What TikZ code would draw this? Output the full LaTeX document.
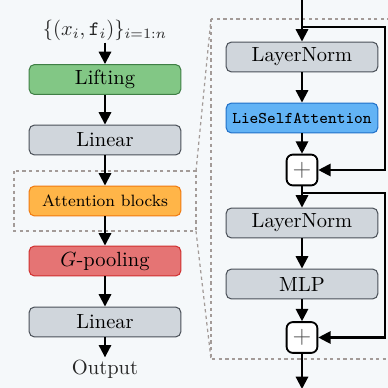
\documentclass[tikz,border=0pt]{standalone}
\usetikzlibrary{arrows.meta}

\definecolor{bgpage}{HTML}{F5F8FA}
\definecolor{liftfill}{HTML}{82C785}
\definecolor{liftdraw}{HTML}{3F7F45}
\definecolor{linfill}{HTML}{D0D6DC}
\definecolor{lindraw}{HTML}{4A5058}
\definecolor{attnfill}{HTML}{FFB548}
\definecolor{attndraw}{HTML}{F07A10}
\definecolor{poolfill}{HTML}{E57474}
\definecolor{pooldraw}{HTML}{D03030}
\definecolor{lsafill}{HTML}{62B3F5}
\definecolor{lsadraw}{HTML}{2070C8}
\definecolor{framecol}{HTML}{A39B98}

\begin{document}
\begin{tikzpicture}[
  x=0.4878pt,
  y=-0.4878pt,
  >={Triangle[width=6pt,length=6pt]},
  block/.style={
    rectangle,
    rounded corners=2.6pt,
    line width=0.5pt,
    minimum width=74pt,
    minimum height=14.6pt,
    inner sep=0pt
  },
  lifting/.style={block, draw=liftdraw, fill=liftfill},
  linear/.style={block, draw=lindraw, fill=linfill},
  attention/.style={block, draw=attndraw, fill=attnfill, font=\footnotesize},
  pooling/.style={block, draw=pooldraw, fill=poolfill},
  selfattn/.style={block, draw=lsadraw, fill=lsafill, font=\footnotesize\ttfamily},
  addnode/.style={
    rectangle,
    draw=black,
    fill=white,
    rounded corners=3pt,
    line width=0.9pt,
    minimum size=15pt,
    inner sep=0pt,
    text=black!70,
    font=\large
  },
  flow/.style={->, line width=1pt},
  frame/.style={draw=framecol, line width=0.6pt, dash pattern=on 1.6pt off 1.6pt},
  label/.style={inner sep=1pt, text=black!85}
]

\path[use as bounding box] (0,0) rectangle (388,388);
\fill[bgpage] (0,0) rectangle (388,388);

\begin{scope}
\clip (0,0) rectangle (388,388);

% ---------------------------------------------------------------------------
% Zoom frames
% ---------------------------------------------------------------------------
\coordinate (zoomtl) at (196,171);
\coordinate (zoombl) at (196,231);
\coordinate (blocktl) at (211,19);
\coordinate (blockbl) at (211,359);
\draw[frame] (14,171) rectangle (zoombl);
\draw[frame] (blocktl) rectangle (420,359);
\draw[frame] (zoomtl) -- (blocktl);
\draw[frame] (zoombl) -- (blockbl);

% ---------------------------------------------------------------------------
% Main pipeline
% ---------------------------------------------------------------------------
\node[label] (input) at (105,30) {$\{(x_i,\mathtt{f}_i)\}_{i=1:n}$};
\node[lifting] (lift) at (105,79.5) {Lifting};
\node[linear] (lin1) at (105,140) {Linear};
\node[attention] (attn) at (105,201) {Attention blocks};
\node[pooling] (pool) at (105,261) {$G$-pooling};
\node[linear] (lin2) at (105,322) {Linear};
\node[label] (output) at (105,369) {Output};

\draw[flow] (input) -- (lift);
\draw[flow] (lift) -- (lin1);
\draw[flow] (lin1) -- (attn);
\draw[flow] (attn) -- (pool);
\draw[flow] (pool) -- (lin2);
\draw[flow] (lin2) -- (output);

% ---------------------------------------------------------------------------
% One attention block
% ---------------------------------------------------------------------------
\coordinate (top) at (302,-2);
\node[linear] (ln1) at (302,57) {LayerNorm};
\node[selfattn] (lsa) at (302,118) {LieSelfAttention};
\node[addnode] (add1) at (302,170) {$+$};
\node[linear] (ln2) at (302,223) {LayerNorm};
\node[linear] (mlp) at (302,284) {MLP};
\node[addnode] (add2) at (302,337.5) {$+$};
\coordinate (bottom) at (302,389);

\draw[flow] (top) -- (ln1);
\draw[flow] (ln1) -- (lsa);
\draw[flow] (lsa) -- (add1);
\draw[flow] (add1) -- (ln2);
\draw[flow] (ln2) -- (mlp);
\draw[flow] (mlp) -- (add2);
\draw[flow] (add2) -- (bottom);

% residual connections
\coordinate (skipa) at (302,27);
\coordinate (skipb) at (302,193);
\draw[flow] (skipa) -- ++(83,0) |- (add1.east);
\draw[flow] (skipb) -- ++(83,0) |- (add2.east);
\end{scope}

\end{tikzpicture}
\end{document}
